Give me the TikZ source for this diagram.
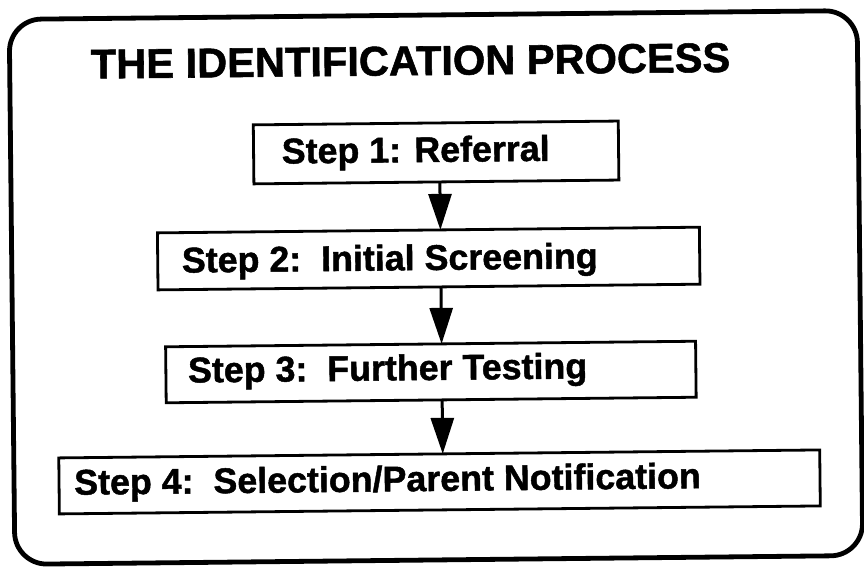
\documentclass[tikz,border=0pt]{standalone}
\usepackage{fontspec}
\setmainfont{Liberation Sans}[BoldFeatures={FakeBold=1.3}]
\usetikzlibrary{arrows.meta}
\begin{document}
\begin{tikzpicture}[x=1pt,y=-1pt,
  frame/.style={line width=4.8pt, rounded corners=32pt},
  stepbox/.style={draw, line width=2.8pt, inner sep=0pt, outer sep=0pt, anchor=north west},
  steptext/.style={font=\bfseries\fontsize{35.8}{40}\selectfont, inner sep=0pt, anchor=base west},
  titletext/.style={font=\bfseries\fontsize{41.6}{48}\selectfont, inner sep=0pt, anchor=base west},
  flow/.style={line width=3pt, -{Triangle[length=36pt,width=23pt]}}]
\useasboundingbox (0,0) rectangle (864,575);
\begin{scope}[rotate around={0.6:(432,288)}, transform shape]
  % outer rounded frame
  \draw[frame] (12,15) rectangle (860,560);
  % heading
  \node[titletext] (title) at (93,75) {THE IDENTIFICATION PROCESS};
  % the four step boxes
  \node[stepbox, minimum width=365pt, minimum height=59pt] (b1) at (255,123) {};
  \node[stepbox, minimum width=542pt, minimum height=57pt] (b2) at (158,230) {};
  \node[stepbox, minimum width=530pt, minimum height=56pt] (b3) at (165,344) {};
  \node[stepbox, minimum width=761pt, minimum height=56pt] (b4) at (57,454) {};
  % labels inside the boxes
  \node[steptext] (t1) at (283,162) {Step 1: Referral};
  \node[steptext] (t2) at (182,270) {Step 2:\ \ Initial Screening};
  \node[steptext] (t3) at (187,380) {Step 3:\ \ Further Testing};
  \node[steptext] (t4) at (72,491) {Step 4:\ \ Selection/Parent Notification};
  % arrows between the steps
  \draw[flow] ([xshift=3.5pt]b1.south) -- ([xshift=12pt]b2.north);
  \draw[flow] ([xshift=12pt]b2.south) -- ([xshift=11pt]b3.north);
  \draw[flow] ([xshift=11pt]b3.south) -- ([xshift=3.5pt]b4.north);
\end{scope}
\end{tikzpicture}
\end{document}
